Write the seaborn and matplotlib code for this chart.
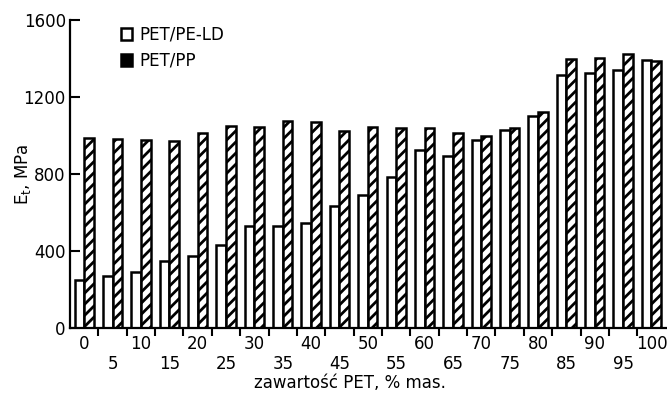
import numpy as np
import pandas as pd
import matplotlib
matplotlib.use("Agg")
import matplotlib.pyplot as plt
from matplotlib.patches import Patch
import seaborn as sns

# ---- data ----
categories = ["0", "5", "10", "15", "20", "25", "30", "35", "40", "45", "50",
              "55", "60", "65", "70", "75", "80", "85", "90", "95", "100"]
pet_pe_ld = [250, 270, 290, 350, 375, 430, 530, 530, 545, 635, 690,
             785, 925, 895, 975, 1030, 1100, 1315, 1325, 1340, 1390]
pet_pp = [985, 980, 975, 970, 1010, 1050, 1045, 1075, 1070, 1025, 1045,
          1040, 1040, 1010, 995, 1040, 1120, 1395, 1400, 1425, 1385]
series_names = ["PET/PE-LD", "PET/PP"]
y_ticks = [0, 400, 800, 1200, 1600]

sns.set_theme(style="ticks")
plt.rcParams["font.family"] = ["DejaVu Sans"]
plt.rcParams["mathtext.default"] = "regular"
plt.rcParams["hatch.linewidth"] = 2.0
plt.rcParams["hatch.color"] = "black"
for k in ["text.color", "axes.labelcolor", "xtick.color", "ytick.color",
          "xtick.labelcolor", "ytick.labelcolor"]:
    plt.rcParams[k] = "black"

df = pd.DataFrame({
    "PET": categories * 2,
    "E": pet_pe_ld + pet_pp,
    "series": [series_names[0]] * len(categories) + [series_names[1]] * len(categories),
})

fig = plt.figure(figsize=(6.67, 3.97), dpi=100)
ax = fig.add_axes([0.105, 0.174, 0.893, 0.776])

sns.barplot(data=df, x="PET", y="E", hue="series", order=categories,
            hue_order=series_names, palette=["white", "white"],
            edgecolor="black", linewidth=1.8, width=0.68, ax=ax,
            legend=False, errorbar=None, saturation=1)

for bar in ax.containers[1]:
    bar.set_hatch("///")

ax.set_xlim(-0.5, len(categories) - 0.5)
ax.set_ylim(0, 1600)

# x tick labels in two rows
xt_labels = [c if i % 2 == 0 else "\n" + c for i, c in enumerate(categories)]
ax.set_xticks(range(len(categories)))
ax.set_xticklabels(xt_labels, fontsize=12, linespacing=1.15)
ax.tick_params(axis="x", which="major", length=0, pad=5)
ax.set_xticks(np.arange(0.5, len(categories) - 1, 1.0), minor=True)
ax.tick_params(axis="x", which="minor", length=6, width=1.5, direction="out",
               color="black")

ax.set_yticks(y_ticks)
ax.set_yticklabels([str(v) for v in y_ticks], fontsize=12)
ax.tick_params(axis="y", length=7, width=1.5, direction="in", pad=3,
               color="black")

for s in ["top", "right"]:
    ax.spines[s].set_visible(False)
for s in ["left", "bottom"]:
    ax.spines[s].set_linewidth(1.6)
    ax.spines[s].set_color("black")

ax.set_xlabel("zawartość PET, % mas.", fontsize=12, color="black")
ax.xaxis.set_label_coords(0.47, -0.148)
ax.set_ylabel("E$_t$, MPa", fontsize=12, color="black")
ax.yaxis.set_label_coords(-0.062, 0.5)

handles = [Patch(facecolor="white", edgecolor="black", linewidth=1.8),
           Patch(facecolor="black", edgecolor="black", linewidth=1.8, hatch="///")]
ax.legend(handles, series_names, loc="upper left", bbox_to_anchor=(0.06, 1.03),
          frameon=False, fontsize=12, handlelength=0.7, handleheight=0.7,
          handletextpad=0.4, labelspacing=0.5, labelcolor="black")

fig.savefig("out.png", dpi=100)
